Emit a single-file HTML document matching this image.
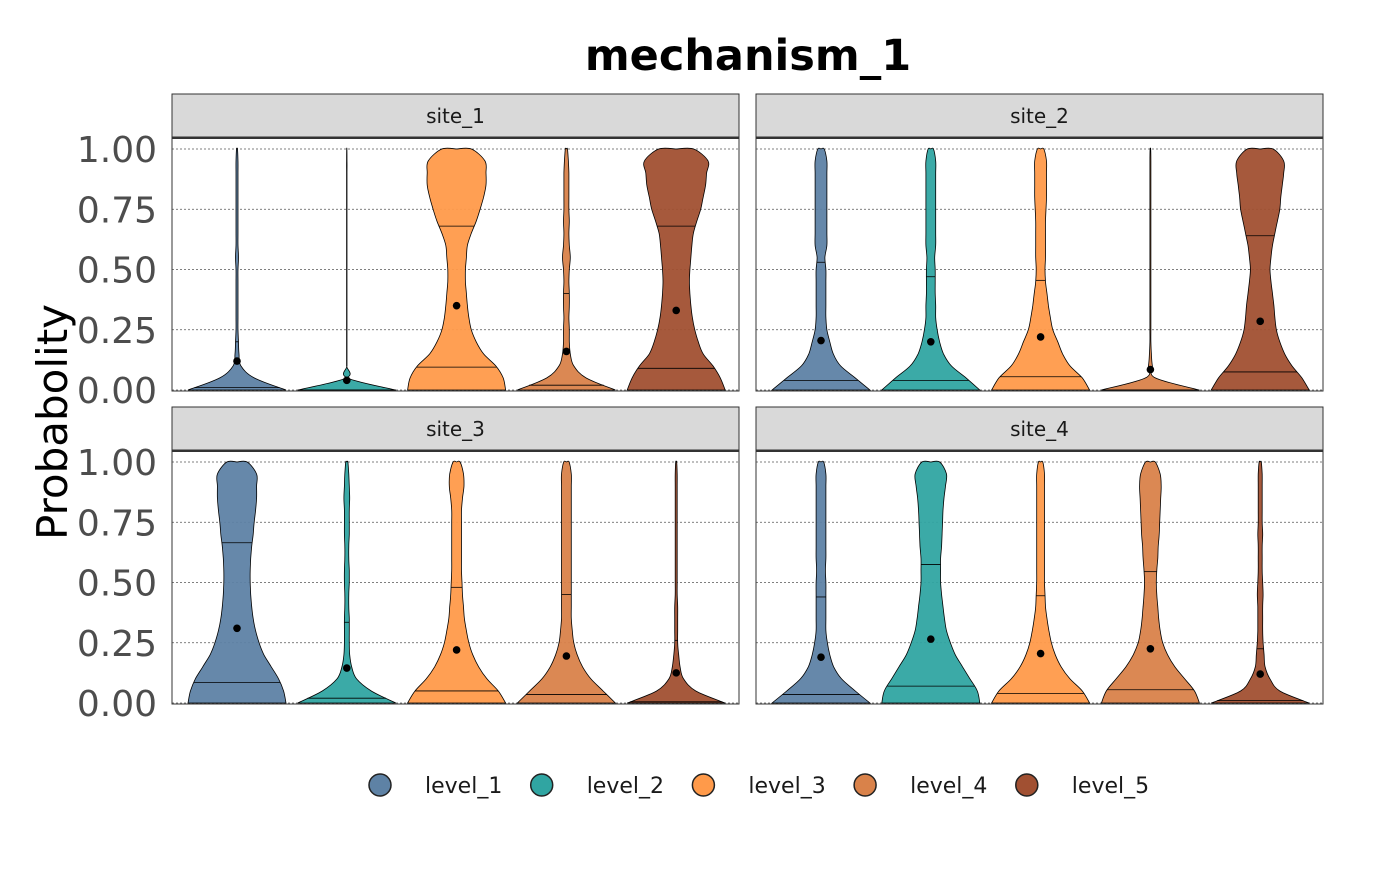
<!DOCTYPE html>
<html><head><meta charset="utf-8"><style>
body{margin:0;background:#fff}
svg text{font-family:"DejaVu Sans","Liberation Sans",sans-serif}
</style></head><body>
<svg id="chart" width="1400" height="866" xmlns="http://www.w3.org/2000/svg">
<text x="748" y="70" text-anchor="middle" font-size="43" font-weight="bold">mechanism_1</text>
<text transform="translate(67,422) rotate(-90)" text-anchor="middle" font-size="42">Probabolity</text>
<g id="panels"></g>
<g id="legend"></g>
</svg>
<script>
const sites = ["site_1","site_2","site_3","site_4"];
const levels = ["level_1","level_2","level_3","level_4","level_5"];
const colors = ["#5E82A5","#30A5A2","#FF9A4A","#D9824A","#A15032"];
const yTicks = [0,0.25,0.5,0.75,1];
const yTickLabels = ["0.00","0.25","0.50","0.75","1.00"];
// density profiles at y = 0,0.05,...,1.0 (relative half-width)
const dens = [
 [
  [1,0.35,0.08,0.04,0.03,0.02,0.02,0.02,0.02,0.02,0.02,0.03,0.02,0.02,0.02,0.02,0.02,0.02,0.02,0.02,0.02],
  [1,0.005,0.005,0.005,0.005,0.005,0.005,0.005,0.005,0.005,0.005,0.005,0.005,0.005,0.005,0.005,0.005,0.005,0.005,0.005,0.005],
  [1,0.95,0.8,0.55,0.4,0.3,0.25,0.22,0.2,0.18,0.18,0.2,0.22,0.3,0.4,0.48,0.55,0.6,0.6,0.58,0.55],
  [1,0.4,0.15,0.08,0.06,0.06,0.05,0.06,0.06,0.05,0.06,0.08,0.06,0.05,0.06,0.05,0.05,0.05,0.05,0.04,0.04],
  [1,0.9,0.75,0.55,0.45,0.38,0.33,0.3,0.28,0.27,0.28,0.3,0.32,0.35,0.42,0.5,0.55,0.6,0.62,0.65,0.65]
 ],
 [
  [1,0.7,0.4,0.25,0.18,0.12,0.1,0.1,0.1,0.1,0.1,0.08,0.12,0.12,0.12,0.12,0.12,0.12,0.12,0.12,0.12],
  [1,0.72,0.42,0.26,0.18,0.13,0.1,0.1,0.09,0.09,0.09,0.08,0.1,0.1,0.1,0.1,0.1,0.1,0.1,0.1,0.1],
  [1,0.85,0.6,0.45,0.35,0.25,0.2,0.16,0.13,0.1,0.09,0.1,0.1,0.1,0.1,0.11,0.12,0.12,0.12,0.12,0.12],
  [1,0.1,0.04,0.02,0.01,0.01,0.01,0.01,0.01,0.01,0.01,0.01,0.01,0.01,0.01,0.01,0.01,0.01,0.01,0.01,0.01],
  [1,0.85,0.65,0.5,0.4,0.33,0.3,0.28,0.25,0.22,0.2,0.22,0.25,0.3,0.35,0.4,0.42,0.45,0.48,0.48,0.48]
 ],
 [
  [1,0.95,0.85,0.7,0.55,0.45,0.38,0.33,0.3,0.28,0.27,0.27,0.28,0.3,0.33,0.35,0.38,0.4,0.4,0.4,0.38],
  [1,0.5,0.2,0.1,0.06,0.05,0.05,0.05,0.04,0.04,0.05,0.05,0.04,0.04,0.05,0.05,0.05,0.06,0.05,0.04,0.04],
  [1,0.85,0.62,0.45,0.33,0.25,0.2,0.16,0.14,0.12,0.11,0.1,0.1,0.1,0.1,0.1,0.1,0.12,0.15,0.14,0.13],
  [1,0.75,0.5,0.33,0.22,0.15,0.12,0.1,0.1,0.1,0.1,0.1,0.1,0.1,0.1,0.1,0.1,0.1,0.1,0.1,0.1],
  [1,0.4,0.15,0.08,0.05,0.03,0.03,0.03,0.03,0.02,0.02,0.02,0.02,0.02,0.02,0.02,0.02,0.02,0.02,0.02,0.02]
 ],
 [
  [1,0.7,0.42,0.26,0.18,0.13,0.1,0.1,0.1,0.1,0.1,0.09,0.1,0.1,0.1,0.1,0.1,0.1,0.1,0.1,0.1],
  [1,0.95,0.8,0.65,0.5,0.4,0.32,0.28,0.25,0.22,0.2,0.2,0.2,0.22,0.23,0.24,0.25,0.27,0.3,0.32,0.33],
  [1,0.85,0.6,0.42,0.3,0.22,0.17,0.13,0.1,0.09,0.08,0.08,0.08,0.08,0.08,0.08,0.08,0.08,0.08,0.08,0.08],
  [1,0.9,0.7,0.5,0.35,0.25,0.2,0.17,0.15,0.13,0.12,0.13,0.15,0.16,0.18,0.19,0.2,0.21,0.22,0.2,0.18],
  [1,0.4,0.2,0.1,0.08,0.06,0.05,0.05,0.05,0.06,0.05,0.04,0.04,0.04,0.05,0.04,0.04,0.04,0.04,0.04,0.04]
 ]
];
const qLow = [[0.01,0,0.095,0.02,0.09],[0.04,0.04,0.055,0,0.075],[0.085,0.02,0.05,0.035,0.005],[0.035,0.07,0.04,0.055,0.01]];
const qHigh = [[0.2,0,0.68,0.4,0.68],[0.53,0.47,0.455,0,0.64],[0.665,0.335,0.48,0.45,0.26],[0.44,0.575,0.445,0.545,0.225]];
const means = [[0.12,0.04,0.35,0.16,0.33],[0.205,0.2,0.22,0.085,0.285],[0.31,0.145,0.22,0.195,0.125],[0.19,0.265,0.205,0.225,0.12]];

const NS="http://www.w3.org/2000/svg";
function mk(t,a,p){const e=document.createElementNS(NS,t);for(const k in a)e.setAttribute(k,a[k]);p.appendChild(e);return e;}
const panelsG=document.getElementById('panels');
const panelX=[172,756], panelW=567;
const stripY=[94,407], stripH=43;
function smooth(pts){let d="M"+pts[0][0]+","+pts[0][1];for(let i=1;i<pts.length;i++){const p0=pts[Math.max(i-2,0)],p1=pts[i-1],p2=pts[i],p3=pts[Math.min(i+1,pts.length-1)];const c1=[p1[0]+(p2[0]-p0[0])/6,p1[1]+(p2[1]-p0[1])/6],c2=[p2[0]-(p3[0]-p1[0])/6,p2[1]-(p3[1]-p1[1])/6];d+=`C${c1[0].toFixed(1)},${c1[1].toFixed(1)} ${c2[0].toFixed(1)},${c2[1].toFixed(1)} ${p2[0].toFixed(1)},${p2[1].toFixed(1)}`;}return d;}
function interp(arr,v){const f=v/0.05,i=Math.min(Math.floor(f),arr.length-2),t=f-i;return arr[i]*(1-t)+arr[i+1]*t;}
sites.forEach((s,si)=>{
  const px=panelX[si%2], sy=stripY[Math.floor(si/2)];
  const top=sy+stripH+2, bot=top+252;
  const y0=bot-1, y1=top+10;
  const Y=v=>y0-(y0-y1)*v;
  const X=i=>px+65+i*109.8;
  const g=mk('g',{},panelsG);
  
  
  const st=mk('rect',{x:px,y:sy,width:panelW,height:stripH,fill:'#D9D9D9',stroke:'#333','stroke-width':1},g);
  
  
  const stt=mk('text',{x:px+panelW/2,y:sy+29,'text-anchor':'middle','font-size':20,fill:'#1a1a1a'},g);stt.textContent=s;
  
  
  mk('line',{x1:px,x2:px+panelW,y1:top-1,y2:top-1,stroke:'#333','stroke-width':2},g);
  yTicks.forEach((t,i)=>{
    const gl=mk('line',{x1:px,x2:px+panelW,y1:Y(t),y2:Y(t),stroke:'#555','stroke-width':0.7,'stroke-dasharray':'2,2'},g);
    
    
    if(si%2==0){const tl=mk('text',{x:157,y:Y(t)+13,'text-anchor':'end','font-size':36,fill:'#4D4D4D'},g);tl.textContent=yTickLabels[i];
      
      }
  });
  levels.forEach((l,li)=>{
    const cx=X(li), d=dens[si][li], W=49;
    const pts=d.map((w,k)=>[w,Y(k*0.05)]);
    const n=pts.length;
    pts[n-1]=[pts[n-1][0]*0.55,pts[n-1][1]];
    pts.push([0,Y(1)]);
    const right=pts.map(p=>[cx+p[0]*W,p[1]]), left=pts.map(p=>[cx-p[0]*W,p[1]]).reverse();
    let path=smooth(right)+smooth(left).replace(/^M[^C]*/,'')+"Z";
    const v=mk('path',{d:path,fill:colors[li],stroke:'#000','stroke-width':0.8,'fill-opacity':0.95},g);
    
    
    [qLow[si][li],qHigh[si][li]].forEach(q=>{const w=interp(d,q)*W;
      const ql=mk('line',{x1:cx-w,x2:cx+w,y1:Y(q),y2:Y(q),stroke:'#000','stroke-width':0.8},g);
      
      });
    const m=mk('circle',{cx:cx,cy:Y(means[si][li]),r:3.8,fill:'#000'},g);
    
    
  });
  mk('rect',{x:px,y:top-1,width:panelW,height:bot-top+1,fill:'none',stroke:'#333','stroke-width':1},g);
});
const lg=document.getElementById('legend');
levels.forEach((l,i)=>{
  const x=380+i*161.7;
  const c=mk('circle',{cx:x,cy:785,r:11,fill:colors[i],stroke:'#222','stroke-width':1.5},lg);
  
  
  const t=mk('text',{x:x+45,y:793,'font-size':22,fill:'#1a1a1a'},lg);t.textContent=l;
  
  
});
</script>
</body></html>
